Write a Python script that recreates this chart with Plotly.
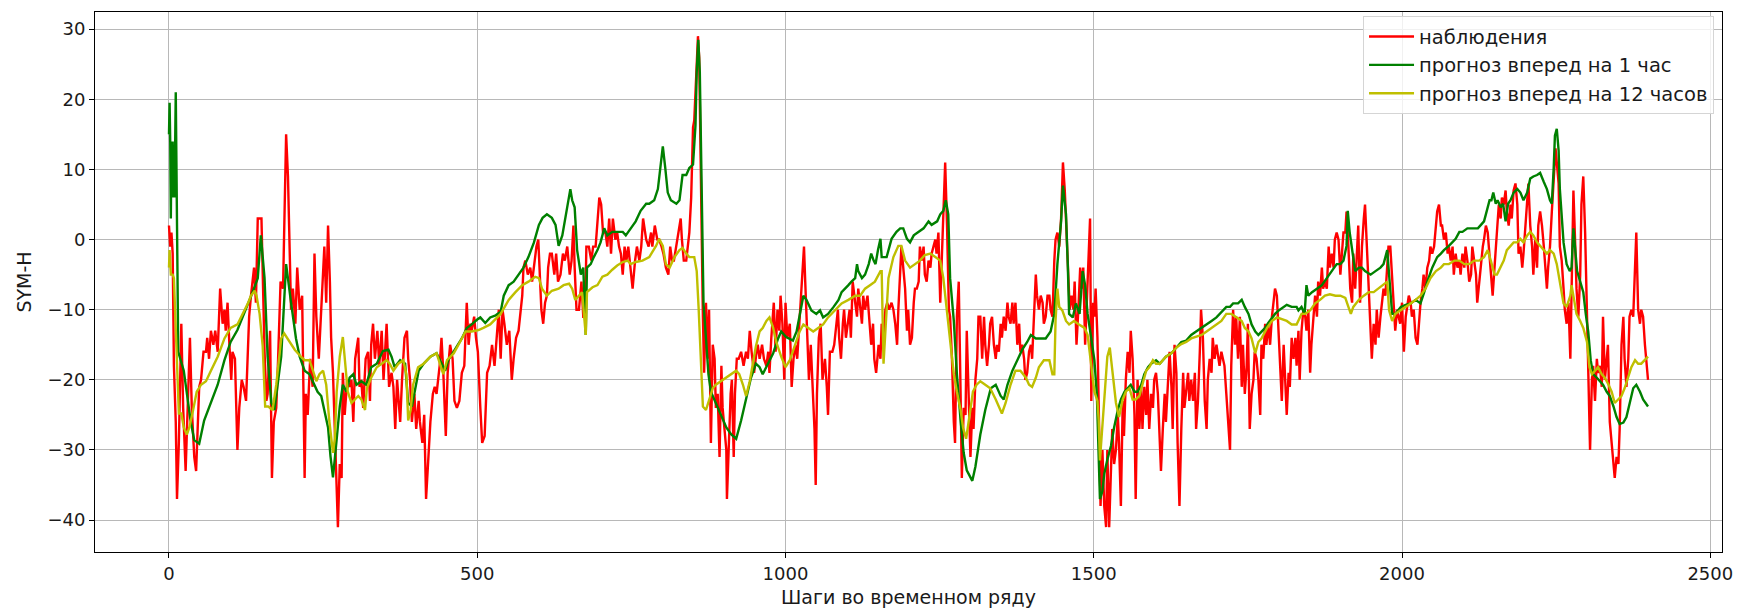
import plotly.graph_objects as go

obs_x = [0,2,4,6,8,11,13,16,20,23,27,31,34,37,41,44,46,49,52,56,60,62,65,68,72,75,79,83,87,90,92,95,98,101,103,107,111,114,118,121,125,128,130,133,138,141,144,150,152,155,158,160,164,167,170,174,177,181,185,188,190,193,196,198,201,205,208,212,
216,220,222,225,229,233,236,239,243,247,250,252,255,258,261,263,266,270,274,277,280,282,285,289,293,296,299,302,307,309,312,315,319,323,326,328,331,334,338,341,345,348,350,353,357,361,364,367,370,375,378,382,386,388,391,394,398,401,405,407,411,414,417,420,424,428,431,434,439,442,445,449,452,456,460,463,467,471,475,479,483,486,489,491,495,498,501,505,508,512,516,520,524,528,531,535,
538,541,544,548,552,556,559,563,567,570,573,575,578,582,586,589,593,596,599,601,604,607,610,613,615,618,621,625,628,631,635,639,642,646,650,653,656,658,661,665,669,672,675,677,681,685,688,692,695,698,701,704,708,711,714,717,720,724,727,730,733,736,739,742,745,749,752,756,759,763,766,769,774,778,782,784,788,792,795,799,802,806,810,813,816,819,823,826,830,832,835,839,842,844,847,850,852,855,858,
860,863,866,868,871,874,876,879,882,885,887,890,893,896,898,901,904,905,908,911,913,916,918,921,924,928,932,936,939,942,945,949,953,955,958,962,965,969,972,974,977,981,984,987,990,992,995,998,1000,1003,1007,1010,1013,1016,1019,1023,1026,1030,1032,1036,1038,1041,1044,1047,1049,1051,1054,1057,1060,1064,1067,1069,1072,1076,1079,1082,1085,1087,1090,1093,1095,1098,1101,1104,1106,1109,1113,1116,1118,1121,1124,1126,1129,1133,1136,1139,1142,1144,1147,1151,1154,1156,1159,1162,1165,1168,1172,1175,1178,1181,
1183,1186,1188,1191,1194,1197,1199,1202,1205,1208,1210,1213,1216,1218,1221,1224,1226,1229,1232,1235,1237,1240,1243,1245,1248,1251,1254,1256,1259,1262,1265,1267,1270,1273,1275,1278,1281,1284,1286,1289,1292,1294,1297,1300,1303,1305,1308,1311,1313,1316,1319,1322,1324,1327,1330,1332,1335,1338,1341,1343,1346,1349,1351,1354,1357,1360,1362,1365,1368,1370,1373,1376,1379,1381,1384,1387,1389,1392,1395,1398,1400,1403,1406,1408,1411,1414,1417,1419,1422,1425,1428,1430,1433,1436,1438,1441,1444,1447,1450,1453,1456,1459,1461,1464,1467,1469,1472,1475,1478,1480,1483,1486,1488,1491,1494,1496,1499,1501,1503,1506,1509,1511,1514,1517,1520,1522,1525,1528,1530,1533,1536,1539,1541,1544,1547,1549,1552,1555,1558,1560,1563,1566,1568,1571,1574,1577,1579,1582,1585,1587,1590,1593,1596,1598,1601,1604,1607,1609,1612,1615,1617,1620,1623,1626,1628,1631,1634,1636,1639,1642,1645,1647,1650,1653,1655,1658,1661,1664,1666,1669,1672,1674,1677,1680,1683,1685,1688,1691,1693,1696,1699,1702,1704,1707,1710,1712,1715,1718,1721,1723,1726,1729,1731,1734,1737,1740,1742,1745,1748,1750,1753,1756,1759,1761,1764,1767,1770,1772,1775,1778,1780,1783,1786,1789,1791,1794,1797,1799,1802,1805,1808,1810,1813,1816,1818,1821,1824,1827,
1829,1832,1834,1837,1840,1843,1845,1848,1851,1853,1856,1859,1862,1864,1867,1870,1872,1875,1878,1881,1883,1886,1889,1891,1894,1897,1900,1902,1905,1908,1910,1913,1916,1919,1921,1924,1927,1929,1932,1935,1938,1940,1943,1946,1948,1951,1954,1957,1959,1962,1965,1968,1970,1973,1976,1978,1981,1984,1987,1989,1992,1995,1997,2000,2003,2006,2008,2011,2014,2016,2019,2022,2025,2027,2030,2033,2035,2038,2041,2044,2046,2049,2052,2054,2057,2060,2063,2065,2068,2071,2074,2076,2079,2082,2084,2087,2090,2093,2095,2098,2101,2103,2106,2109,2112,2114,2117,2120,2122,2125,2128,2131,2133,2136,2139,2141,2144,2147,2150,
2154,2157,2160,2162,2165,2168,2170,2173,2176,2178,2181,2184,2187,2189,2192,2195,2197,2200,2203,2205,2208,2211,2213,2216,2219,2221,2224,2227,2230,2232,2235,2237,2240,2243,2246,2249,2251,2254,2256,2259,2262,2264,2267,2270,2273,2275,2278,2281,2283,2286,2289,2291,2294,2297,2299,2302,2305,2308,2310,2313,2316,2318,2321,2324,2326,2329,2332,2334,2337,2340,2343,2345,2348,2351,2353,2356,2359,2361,2364,2367,2369,2372,2375,2377,2380,2383,2386,2388,2391,2394,2396,2399]
obs_y = [2,-1,1,-2,-18,-26,-37,-29,-12,-24,-33,-22,-14,-24,-31,-33,-29,-21,-20,-16,-16,-14,-17,-13,-15,-13,-16,-7,-12,-10,-13,-9,-15,-20,-16,-17,-30,-24,-20,-21,-23,-17,-11,-8,-4,-9,3,3,-5,-16,-23,-22,-13,-34,-26,-24,-17,-6,-7,6,15,9,-1,-10,-7,-12,-4,-10,
-8,-34,-22,-25,-17,-21,-2,-11,-17,-10,-5,-1,-9,2,-6,-14,-19,-29,-41,-32,-34,-19,-25,-20,-21,-20,-26,-17,-14,-21,-20,-24,-17,-16,-23,-15,-12,-17,-13,-18,-13,-20,-17,-12,-21,-19,-21,-27,-20,-26,-20,-14,-13,-17,-20,-26,-22,-27,-23,-26,-29,-25,-37,-32,-26,-22,-21,-22,-18,-14,-19,-28,-19,-15,-17,-23,-24,-23,-19,-18,-9,-15,-12,-13,-11,-14,-16,-24,-29,-28,-19,-18,-15,-18,-14,-10,
-17,-10,-12,-15,-13,-20,-17,-14,-13,-10,-8,-4,-3,-5,-4,-6,-3,-1,0,-4,-10,-12,-9,-8,-4,-2,-2,-5,-2,-6,-5,-2,-3,-1,-5,-3,2,-4,-10,-10,-6,-11,-11,-1,-1,-3,-1,-1,2,6,5,1,1,-1,3,-2,3,0,1,-1,-2,-5,-1,-3,-1,-5,-7,-3,-1,-3,-1,3,0,-1,1,-1,2,0,0,-1,-2,-4,-5,-1,-3,-3,-1,1,3,0,-3,-3,-1,1,6,16,17,24,29,
26,6,-11,-19,-9,-17,-10,-29,-15,-17,-24,-22,-31,-18,-24,-27,-30,-37,-28,-22,-20,-31,-22,-17,-17,-16,-18,-16,-17,-13,-16,-19,-16,-15,-17,-15,-17,-18,-16,-19,-14,-9,-16,-10,-13,-8,-12,-20,-9,-14,-12,-21,-17,-15,-17,-11,-6,-1,-6,-14,-20,-15,-20,-27,-35,-22,-14,-12,-20,-17,-21,-25,-16,-16,-15,-12,-10,-14,-17,-12,-10,-14,-12,-10,-14,-6,-9,-11,-7,-10,-12,-8,-10,-8,-11,-15,-12,-17,-19,-15,-17,-12,-14,-10,-9,-10,-9,-10,-12,-15,
-10,-5,-1,-4,-7,-13,-10,-15,-14,-9,-7,-7,-6,-1,-3,-1,-5,-6,-3,-4,-2,-1,0,-2,1,-9,-1,3,11,2,-10,-11,-17,-26,-29,-11,-6,-22,-34,-24,-25,-13,-22,-31,-24,-27,-20,-17,-11,-11,-17,-11,-15,-18,-15,-12,-11,-15,-17,-15,-16,-12,-14,-11,-13,-9,-11,-12,-9,-12,-9,-15,-12,-16,-15,-17,-20,-19,-16,-15,-17,-11,-5,-8,-10,-8,-9,-12,-11,-8,-8,-10,-11,-3,0,1,-1,3,11,7,1,-6,-10,-8,-10,-6,-15,-10,-4,-7,-4,-15,-10,-4,3,-23,-9,-11,-7,-14,-30,-38,-30,-38,-41,-30,-41,-32,-27,-32,-30,-25,-29,-38,-23,-28,-20,-16,-19,-13,-17,-25,-37,-20,-27,-21,-27,-21,-25,-20,-27,-22,-24,-20,-19,-22,-28,-33,-27,-22,-26,-20,-16,-21,-27,-15,-19,-29,-38,-27,-19,-24,-21,-19,-23,-20,-23,-19,-27,-23,-16,-10,-14,-23,-27,-20,-17,-19,-14,-17,-15,-17,-18,-16,-17,-18,-22,-26,-30,-18,-10,-15,-11,-17,-11,-21,-15,-22,-18,-12,-27,-22,-20,-16,-17,-20,-25,-15,-17,-12,-15,-12,-15,-11,-9,-7,-8,-12,-19,-23,-15,-20,-25,-19,-21,-14,-17,-14,
-18,-13,-20,-13,-10,-11,-13,-10,-19,-15,-11,-8,-11,-6,-8,-4,-7,-6,-7,-1,-4,-2,-4,0,1,0,-5,-3,1,1,4,-1,-7,-9,-2,-7,0,2,-9,-1,3,5,-1,-8,-11,-17,-12,-15,-10,-14,-11,-9,-7,-8,-4,-1,-1,-6,-11,-13,-10,-11,-12,-9,-16,-11,-10,-8,-9,-11,-10,-14,-15,-12,-9,-7,-5,-7,-4,-3,-1,-2,-1,1,4,5,2,2,0,1,-2,-1,-3,-1,-5,-2,-4,-3,-5,-2,-4,-1,-3,-6,-5,-1,-3,-5,-9,-6,-3,-1,0,2,1,-1,-5,-8,-4,
2,5,3,6,5,7,4,2,5,3,7,8,5,-2,-1,-4,-2,2,5,8,2,-1,-5,0,-4,2,4,2,-1,-4,-7,-4,-1,4,9,13,11,8,-1,-3,-7,-10,-12,-9,-17,-9,7,-1,-7,-11,-5,5,9,1,-7,-17,-30,-20,-18,-23,-17,-19,-18,-21,-11,-20,-17,-15,-26,-29,-31,-34,-31,-32,-27,-15,-11,-17,-21,-17,-11,-10,-11,-5,1,-10,-12,-10,-11,-15,-17,-20]

# ---- 1-hour-ahead forecast ----
h1_x = [0,1,2,3,4,5,6,7,8,9,11,13,15,24,35,41,49,57,68,79,90,100,111,122,133,144,149,155,160,166,171,182,190,198,206,
212,220,228,236,241,247,252,258,262,266,271,277,282,288,293,299,304,312,320,328,337,347,356,361,366,375,383,388,394,399,405,413,424,434,443,448,453,464,475,483,491,500,505,513,521,530,538,
543,551,559,567,575,583,592,600,606,613,621,627,632,638,643,649,651,654,658,662,668,672,676,678,684,689,695,700,706,711,719,727,736,741,749,757,765,774,779,787,793,798,801,805,809,814,823,828,833,839,844,850,854,856,858.5,861,864,867,871,875,879,887,896,904,912,920,928,936,944,952,958,963,971,980,988,993,1001,1012,1018,1023,1029,1034,1042,1050,1056,1061,1069,1078,1086,1091,1097,1102,1107,1113,1116,1118,1124,1129,1135,1139,1143,1146,1150,1154,1156,1164,1172,1180,1186,1191,1197,1202,1208,1216,1224,1232,1237,1246,1251,1256,1260,1264,1267,1273,1278,1284,1289,1294,1303,1308,1316,1324,1333,1341,1349,1354,1360,1368,1376,1384,1392,1398,1406,1414,1422,1430,1436,1441,1447,1450,1455,1458,1460,1466,1471,1477,1482,1486,1490,1496,1501,1505,1508,1510,1514,1517,1522,1528,1533,1539,1544,1550,1555,1560,1566,1571,1577,1582,1588,1593,1601,1607,1612,1617,1626,1634,1642,1650,1658,1666,1675,1683,1691,1699,1707,1715,1721,1726,1734,1740,1745,1751,1756,1762,1767,1772,1778,1783,1789,1794,1800,1808,1813,1821,1829,1832,1837,1842,1845,1848,1854,1862,1870,1878,1886,1894,1900,1905,1910,1912,1915,1919,1924,1930,1935,1940,1949,1957,1965,1970,1973,1976,1979,1984,1989,1998,2006,2014,2022,2030,2036,2041,2049,2057,2063,2068,2076,2082,2087,2093,2098,2106,2112,2117,2123,2128,2133,2136,2139,2142,2145,2148,2152,2155,2160,2164,2168,2172,2176,2181,2187,2192,2197,2203,2208,2213,2219,2224,2230,2235,2240,2243,2246,2248,2251,2254,2256,2259,2262,2267,2272,2275,2278,2281,2284,2289,2294,2298,2302,2306,2310,2316,2321,2326,2332,2337,2343,2348,2353,2359,2364,2369,2375,2380,2386,2391,2399]
h1_y = [15,19.5,14,3,14,6,14,6,13,6,21,5,-16,-18.7,-25.8,-28.6,-29.1,-25.8,-23.3,-20.7,-17.2,-14.6,-12.9,-10.6,-8.1,-5.5,0.6,-5.5,-16.7,-23.3,-24.3,-16.7,-3.5,-9,-14.1,
-16.7,-18.7,-19.2,-20.7,-21.7,-22.3,-24.3,-26.8,-30.9,-33.9,-29.4,-23.8,-20.7,-21.7,-19.7,-19.2,-20.7,-20.2,-20.7,-18.2,-17.7,-15.9,-15.7,-16.7,-18.2,-17.2,-17.7,-23.3,-23.8,-21.2,-18.7,-17.7,-16.7,-16.2,-17.7,-18.7,-17.2,-15.7,-14.1,-12.6,-12.1,-11.4,-11.1,-11.9,-11.1,-10.8,-10.3,
-8,-6.5,-6,-5,-4,-2.5,-0.4,2.1,3.1,3.6,3.1,2.1,-0.9,0.6,3.1,5.6,7.2,5.6,4.6,-1.5,-5,-4,-13.6,-4,-3.5,-2.5,-1.5,-0.4,1.6,0.6,1.1,1.1,1.1,0.6,1.6,2.6,4.1,5.1,5.1,5.6,7.2,11.7,13.3,10.2,6.7,5.6,5.1,5.6,9.2,9.2,10.2,10.7,16.3,23.9,28.5,23.9,8.7,-9.1,-14.1,-19.2,-21.7,-23.3,-25.3,-26.8,-27.8,-28.4,-25.8,-22.8,-19.7,-17.7,-18.2,-19.2,-17.7,-16.2,-14.1,-13.1,-13.9,-14.4,-13.1,-10.6,-8,-8.6,-10.1,-10.6,-10.1,-11.1,-10.6,-9.6,-8.6,-7.5,-7,-6.5,-6,-5.5,-3.5,-4.5,-5.5,-5,-3.5,-2,-3,-3.5,-1.5,0.1,-2.5,-2.5,0.1,1.1,1.6,1.6,0.1,-0.4,0.6,1.1,1.6,2.6,2.1,2.6,3.6,4.1,5.6,3.6,-5.5,-11.6,-19.2,-25.8,-30.4,-32.9,-34.4,-32.4,-27.8,-24.3,-21.2,-20.7,-22.3,-22.8,-20.7,-18.7,-17.2,-15.7,-14.6,-13.6,-14.1,-14.1,-14.1,-13.1,-10.6,-3.5,2.6,7.7,3.6,-4,-10.6,-11.1,-9.1,-10.6,-4.5,-6.5,-10.6,-14.1,-17.2,-22,-31.9,-37,-35.9,-33.4,-31.4,-29.4,-26.8,-24.3,-22.8,-21.7,-21.2,-20.7,-21.7,-21.7,-20.7,-19.2,-18.2,-17.7,-17.2,-17.7,-17.2,-16.7,-16.2,-15.4,-14.6,-14.4,-13.6,-13.1,-12.6,-12.1,-11.6,-11.1,-10.3,-9.6,-9.6,-9.1,-9.1,-8.6,-9.6,-10.6,-12.1,-13.1,-13.6,-13.1,-12.6,-11.9,-11.1,-10.6,-10.1,-9.6,-9.3,-9.6,-9.6,-10.1,-9.6,-10.6,-6.5,-8,-7.5,-7,-6.5,-5.5,-4.5,-3.5,-3.5,-3,-0.9,4.1,1.1,-1.5,-4.5,-4,-4,-4.5,-5,-4.5,-4,-3.5,-2.5,-1.5,-5,-10.6,-10.6,-9.6,-9.3,-9.1,-8.6,-9.1,-7.5,-6,-4,-2.5,-2,-1.5,-0.9,-0.4,0.1,1.1,1.1,1.6,1.6,1.6,1.6,2.1,2.6,3.6,4.6,5.6,5.6,6.7,5.1,5.6,4.6,5.1,2.6,5.1,5.6,6.7,7.2,6.7,5.6,6.7,8.7,9,9.2,9.5,8.2,7.2,5.6,5.1,10.2,14.8,15.8,12.7,7.2,2.6,-0.4,-3.5,-4.5,-4,1.6,-1.5,-4.5,-6,-7.5,-10.6,-13.1,-17.2,-19.2,-19.7,-20.2,-20.7,-21.7,-22.3,-23.8,-25.3,-26.3,-26.1,-25.3,-23.3,-21.2,-20.7,-21.7,-22.8,-23.8]

# ---- 12-hour-ahead forecast ----
h12_x = [0,1,3,6,8,12.5,16,20,24,29,33,38,45,52,60,68,79,90,100,111,120,128,133,139,142,147,152,156,161,168,174,182,187,196,204,214,220,228,233,239,244,250,255,260,266,269,272,277,282,287,290,296,301,307,312,318,321,328,337,345,353,358,364,372,380,385,388,392,396,404,413,424,434,443,445,451,462,472,481,491,502,510,521,538,
551,562,573,583,594,600,605,613,621,632,640,649,654,659,665,670,676,678,687,695,703,711,719,727,736,744,749,757,768,779,790,795,801,806,812,820,828,833,839,844,852,856,859,863,866,871,876,882,887,895,904,912,920,925,931,936,942,947,952,958,963,969,974,980,985,993,1000,1007,1015,1023,1029,1037,1045,1053,1061,1069,1080,1091,1102,1113,1121,1129,1137,1145,1154,1156,1159,1162,1167,1175,1183,1188,1194,1202,1210,1218,1226,1235,1243,1251,1256,1262,1267,1273,1278,1284,1288,1293,1299,1304,1310,1316,1324,1332,1341,1348,1351,1357,1365,1373,1381,1390,1395,1400,1406,1411,1419,1428,1433,1436,1438,1441,1444,1449,1455,1460,1468,1476,1485,1490,1495,1501,1506,1508,1510,1514,1518,1522,1526,1530,1536,1541,1547,1552,1558,1563,1568,1574,1579,1585,1590,1596,1601,1607,1612,1617,1626,1634,1642,1650,1658,1666,1675,1683,1691,1699,1707,1715,1723,1732,1740,1745,1751,1756,1762,1767,1772,1781,1789,1797,1805,1813,1821,1829,1837,1843,1851,1859,1867,1875,1883,1892,1900,1908,1913,1917,1921,1930,1938,1946,1954,1962,1970,1976,1979,1984,1989,1998,2006,2014,2022,2030,2038,2046,2055,2063,2068,2076,2085,2093,2101,2109,2117,2125,2133,2139,2144,2150,2154,2160,2165,2170,2176,2181,2187,2192,2197,2203,2208,2213,2219,2224,2230,2235,2240,2246,2251,2256,2262,2267,2273,2275,2278,2283,2289,2294,2300,2304,2308,2313,2318,2324,2329,2335,2340,2345,2351,2356,2361,2367,2372,2378,2383,2388,2394,2399]
h12_y = [-4,-1.5,-5,-5,-5.5,-16.7,-24.8,-24.8,-26.8,-27.8,-26.8,-24.8,-21.7,-20.7,-20.2,-18.7,-16.7,-14.1,-12.6,-12.1,-10.6,-9.1,-8,-7.3,-8,-10.6,-15.2,-23.8,-23.8,-24.3,-20.7,-14.1,-13.4,-14.6,-15.7,-16.7,-17.2,-17.2,-18.7,-20.2,-19.2,-18.7,-20.7,-25.8,-30.4,-28.4,-21.7,-16.7,-13.9,-19.2,-21.7,-23.3,-22.8,-22.3,-22.8,-24.3,-21.2,-19.7,-18.2,-17.7,-17.2,-17.7,-18.7,-17.7,-17.2,-19.2,-25.8,-24.3,-20.7,-18.2,-17.7,-16.7,-16.2,-18.7,-19.2,-17.2,-16.2,-14.6,-13.1,-13.1,-12.9,-12.6,-12.1,-10.6,
-8.6,-7.5,-6.5,-6,-5.3,-5.5,-7,-8,-7.3,-7,-6.5,-6.3,-7,-8.6,-8,-7.5,-13.6,-7.5,-6.8,-6.5,-5.3,-5,-4.3,-3.7,-3.2,-3,-3.5,-3.2,-3,-2.5,-0.9,0.1,-0.9,-3.5,-4,-2.5,-1.5,-1.2,-2,-2.5,-2.5,-4.5,-9.6,-19.2,-23.8,-24.3,-22.8,-21.2,-20.7,-20.2,-19.7,-19.2,-18.7,-19.2,-20.7,-22.3,-20.2,-17.7,-15.2,-13.1,-12.6,-11.6,-11.1,-12.6,-14.6,-16.7,-18.2,-17.2,-15.2,-13.1,-12.1,-12.6,-13.1,-12.6,-12.1,-11.1,-10.1,-9.1,-8.6,-8,-8,-7,-6.5,-6,-4.5,-4.5,-17.7,-12.6,-5.5,-2.5,-0.9,-0.9,-3,-4,-3.5,-3,-2.2,-2,-2.5,-3,-5.5,-10.1,-14.1,-19.2,-21.7,-24.3,-26.8,-28.4,-24.8,-21.7,-20.7,-20.2,-20.7,-21.2,-22.8,-24.3,-24.8,-23.3,-20.7,-18.7,-18.7,-19.7,-20.7,-21,-19.7,-18.2,-17.2,-17.2,-19.2,-19.2,-11.6,-7,-9.6,-10.1,-11.6,-12.1,-11.6,-12.1,-12.6,-13.6,-17.2,-21.7,-23,-25.8,-31.5,-26.8,-20.7,-16.7,-15.4,-18.7,-23.3,-25.3,-22.8,-21.7,-21.2,-22.8,-22.8,-22.3,-20.7,-18.7,-18.2,-17.2,-17.7,-17.7,-17.2,-16.7,-16.2,-15.4,-14.9,-14.6,-14.1,-13.9,-13.6,-13.1,-12.6,-12.1,-11.6,-10.6,-10.6,-11.1,-11.6,-12.6,-13.1,-14.1,-16.2,-14.6,-14.1,-12.6,-11.6,-11.1,-11.4,-11.6,-12.1,-12.1,-10.6,-10.6,-10.1,-9.1,-8.6,-8,-7.8,-8,-8,-8.3,-9.6,-10.6,-9.6,-8.6,-8,-7.5,-7.5,-7,-6.5,-6,-10.1,-11.6,-10.6,-10.1,-9.6,-9.1,-8.6,-8,-7,-5.5,-4.5,-4,-3.5,-3.5,-3,-3,-3.5,-3.5,-3,-3,-2.5,-1.5,-3,-5,-5,-4,-3,-1.5,-0.9,-0.4,-0.4,0.1,-0.4,0.6,1.1,0.6,-0.4,-0.9,-1.5,-2,-1.5,-2,-3.5,-6,-9.1,-9.6,-8,-6.5,-8,-10.6,-11.6,-12.6,-14.6,-18.2,-19.2,-18.7,-18.2,-19.2,-19.7,-20.7,-21.7,-23.3,-22.8,-22.3,-21.2,-19.7,-18.2,-17.2,-17.7,-17.7,-17.2,-16.7]

series_names = ["наблюдения", "прогноз вперед на 1 час", "прогноз вперед на 12 часов"]
series_colors = ["#ff0000", "#008000", "#bfbf00"]
x_ticks = [0, 500, 1000, 1500, 2000, 2500]
y_ticks = [-40, -30, -20, -10, 0, 10, 20, 30]

fig = go.Figure()
for xs, ys, name, col in zip([obs_x, h1_x, h12_x], [obs_y, h1_y, h12_y], series_names, series_colors):
    fig.add_trace(go.Scatter(x=xs, y=ys, mode="lines", name=name,
                             line=dict(color=col, width=2.4)))

axis_common = dict(showline=True, linecolor="#000000", linewidth=1, mirror=True,
                   ticks="outside", ticklen=5, tickwidth=1, tickcolor="#000000",
                   showgrid=True, gridcolor="#b8b8b8", gridwidth=1, zeroline=False,
                   tickfont=dict(size=18, color="#1a1a1a"))

fig.update_layout(
    width=1744, height=616,
    margin=dict(l=95, r=18, t=11, b=60),
    paper_bgcolor="white", plot_bgcolor="white",
    font=dict(family="DejaVu Sans", size=17, color="#1a1a1a"),
    xaxis=dict(range=[-120, 2519], tickvals=x_ticks,
               title=dict(text="Шаги во временном ряду", standoff=8,
                          font=dict(size=19, color="#1a1a1a")), **axis_common),
    yaxis=dict(range=[-44.55, 32.45], tickvals=y_ticks,
               title=dict(text="SYM-H", standoff=10,
                          font=dict(size=19, color="#1a1a1a")), **axis_common),
    legend=dict(x=0.9951, y=0.992, xanchor="right", yanchor="top",
                bgcolor="rgba(255,255,255,0.8)", bordercolor="#d5d5d5", borderwidth=1,
                itemwidth=45,
                font=dict(size=19.5, color="#1a1a1a")),
    showlegend=True,
)

fig.write_html("out.html")
